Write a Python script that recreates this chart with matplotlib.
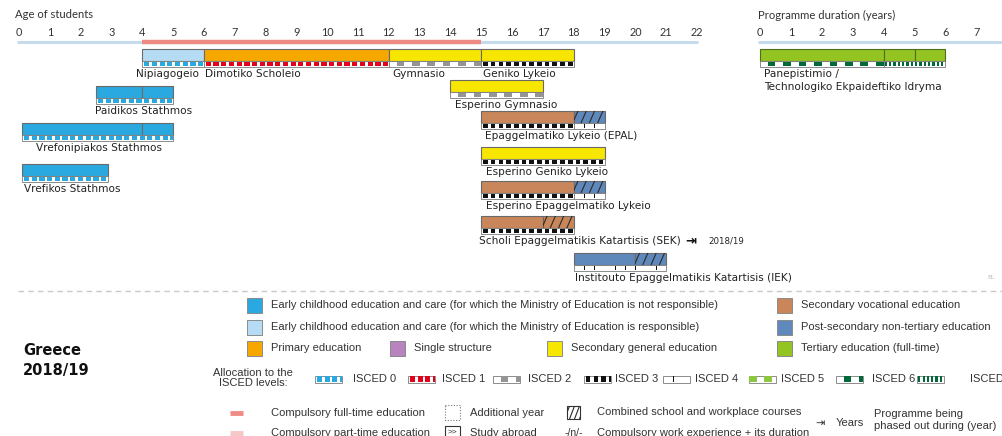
import matplotlib
matplotlib.use("Agg")
import matplotlib.pyplot as plt
from matplotlib.patches import Rectangle
import numpy as np

# ---- data -------------------------------------------------------------
age_ticks = list(range(0, 23))
duration_ticks = list(range(0, 8))
compulsory_full_time = (4, 15)

# bar pieces on the age axis: (programme, start age, end age, type, combined school/work)
age_segments = [
    ("Nipiagogeio", 4, 6, "ecec_moe", False),
    ("Dimotiko Scholeio", 6, 12, "primary", False),
    ("Gymnasio", 12, 15, "sec_gen", False),
    ("Geniko Lykeio", 15, 18, "sec_gen", False),
    ("Paidikos Stathmos", 2.5, 4, "ecec", False),
    ("Paidikos Stathmos", 4, 5, "ecec", False),
    ("Esperino Gymnasio", 14, 17, "sec_gen", False),
    ("Vrefonipiakos Stathmos", 0.1, 4, "ecec", False),
    ("Vrefonipiakos Stathmos", 4, 5, "ecec", False),
    ("Epaggelmatiko Lykeio (EPAL)", 15, 18, "sec_voc", False),
    ("Epaggelmatiko Lykeio (EPAL)", 18, 19, "post_sec", True),
    ("Vrefikos Stathmos", 0.1, 2.9, "ecec", False),
    ("Esperino Geniko Lykeio", 15, 19, "sec_gen", False),
    ("Esperino Epaggelmatiko Lykeio", 15, 18, "sec_voc", False),
    ("Esperino Epaggelmatiko Lykeio", 18, 19, "post_sec", True),
    ("Scholi Epaggelmatikis Katartisis (SEK)", 15, 17, "sec_voc", False),
    ("Scholi Epaggelmatikis Katartisis (SEK)", 17, 18, "sec_voc", True),
    ("Institouto Epaggelmatikis Katartisis (IEK)", 18, 20, "post_sec", False),
    ("Institouto Epaggelmatikis Katartisis (IEK)", 20, 21, "post_sec", True),
]

# ISCED allocation on the age axis: (programme, start, end, level)
age_isced = [
    ("Nipiagogeio", 4, 6, 0),
    ("Dimotiko Scholeio", 6, 12, 1),
    ("Gymnasio", 12, 15, 2),
    ("Geniko Lykeio", 15, 18, 3),
    ("Paidikos Stathmos", 2.5, 5, 0),
    ("Esperino Gymnasio", 14, 17, 2),
    ("Vrefonipiakos Stathmos", 0.1, 5, 0),
    ("Epaggelmatiko Lykeio (EPAL)", 15, 18, 3),
    ("Epaggelmatiko Lykeio (EPAL)", 18, 19, 4),
    ("Vrefikos Stathmos", 0.1, 2.9, 0),
    ("Esperino Geniko Lykeio", 15, 19, 3),
    ("Esperino Epaggelmatiko Lykeio", 15, 18, 3),
    ("Esperino Epaggelmatiko Lykeio", 18, 19, 4),
    ("Scholi Epaggelmatikis Katartisis (SEK)", 15, 18, 3),
    ("Institouto Epaggelmatikis Katartisis (IEK)", 18, 21, 4),
]

# tertiary programmes on the duration axis (years)
tertiary_lines = ["Panepistimio /", "Technologiko Ekpaideftiko Idryma"]
tertiary_segments = [(0, 4), (4, 5), (5, 6)]
tertiary_isced = [(0, 4, 6), (4, 6, 7)]

phased_out_name = "Scholi Epaggelmatikis Katartisis (SEK)"
phased_out_year = "2018/19"

# ---- layout (pixels from top, label start in years) -------------------
row_top = {
    "Nipiagogeio": 49, "Dimotiko Scholeio": 49, "Gymnasio": 49, "Geniko Lykeio": 49,
    "Paidikos Stathmos": 86, "Esperino Gymnasio": 80, "Vrefonipiakos Stathmos": 123,
    "Epaggelmatiko Lykeio (EPAL)": 111, "Vrefikos Stathmos": 164,
    "Esperino Geniko Lykeio": 147, "Esperino Epaggelmatiko Lykeio": 181,
    "Scholi Epaggelmatikis Katartisis (SEK)": 216,
    "Institouto Epaggelmatikis Katartisis (IEK)": 253,
}
label_x = {
    "Nipiagogeio": 3.8, "Dimotiko Scholeio": 6.05, "Gymnasio": 12.1, "Geniko Lykeio": 15.05,
    "Paidikos Stathmos": 2.47, "Esperino Gymnasio": 14.15, "Vrefonipiakos Stathmos": 0.55,
    "Epaggelmatiko Lykeio (EPAL)": 15.12, "Vrefikos Stathmos": 0.16,
    "Esperino Geniko Lykeio": 15.14, "Esperino Epaggelmatiko Lykeio": 15.14,
    "Scholi Epaggelmatikis Katartisis (SEK)": 14.93,
    "Institouto Epaggelmatikis Katartisis (IEK)": 18.04,
}

COLORS = {
    "ecec": "#2aa9e0", "ecec_moe": "#b5dcf4", "primary": "#f6a800",
    "single": "#b883bf", "sec_gen": "#f7e600", "sec_voc": "#c8865a",
    "post_sec": "#5f88bb", "tertiary": "#93c422",
}
# color, period (years), filled fraction, phase
ISCED_STYLE = {
    0: ("#2aa9e0", 0.25, 0.68, 0.06),
    1: ("#e2001a", 0.25, 0.68, 0.06),
    2: ("#959595", 0.5, 0.5, 0.25),
    3: ("#111111", 0.25, 0.6, 0.06),
    4: ("#111111", 1 / 3, 0.07, 1 / 3),
    5: ("#8dc63f", 0.5, 0.5, 0.0),
    6: ("#00693a", 0.5, 0.5, 0.25),
    7: ("#00693a", 0.14, 0.5, 0.04),
}

PX = 30.82          # pixels per year
BAR_H, STRIP_H = 12, 6
W, H = 1002, 436
LBL_FONT = "DejaVu Sans"
AX_FONT = "Lato"
LEG_FONT = "Liberation Sans"
LBL_SIZE = 7.6
LEG_SIZE = 8.0
TXT = "#333333"


def isced_strip(ax, x0, x1, y, h, level, unit=1.0):
    color, period, frac, phase = ISCED_STYLE[level]
    ax.add_patch(Rectangle((x0, y), x1 - x0, h, fc="white", ec="#7a7a7a", lw=0.6, zorder=3))
    p = period * unit
    for x in np.arange(x0 + phase * unit, x1, p):
        w = min(p * frac, x1 - x)
        if w > 0:
            ax.add_patch(Rectangle((x, y + 0.9), w, h - 1.8, fc=color, lw=0, zorder=4))


def hatch(ax, x0, x1, y0, y1, step, slant):
    clip = Rectangle((x0, y0), x1 - x0, y1 - y0, transform=ax.transData)
    for x in np.arange(x0 - slant + step * 0.5, x1 + step, step):
        ln, = ax.plot([x, x + slant], [y1, y0], color="#2b2b2b", lw=0.8, zorder=4,
                      solid_capstyle="butt")
        ln.set_clip_path(clip)


fig = plt.figure(figsize=(W / 100, H / 100), dpi=100)

# age axes (x in years of age, y in pixels)
ax = fig.add_axes([0, 0, 1, 1])
ax.set_xlim(-19 / PX, (W - 19) / PX)
ax.set_ylim(H, 0)
ax.axis("off")

# duration axes (x in programme years)
ax2 = fig.add_axes([0, 0, 1, 1])
ax2.set_xlim(-760 / 30.9, (W - 760) / 30.9)
ax2.set_ylim(H, 0)
ax2.axis("off")

# legend axes (pixels)
axl = fig.add_axes([0, 0, 1, 1])
axl.set_xlim(0, W)
axl.set_ylim(H, 0)
axl.axis("off")

# ---- age scale
ax.text(-0.13, 15, "Age of students", fontsize=8.1, family=AX_FONT, color=TXT, va="center")
for t in age_ticks:
    ax.text(t, 32, str(t), fontsize=7.8, family=AX_FONT, color=TXT, ha="center", va="center")
ax.plot([-0.06, 22.03], [42, 42], color="#c5dbec", lw=2.2, solid_capstyle="butt")
ax.plot(compulsory_full_time, [42, 42], color="#ef8b85", lw=3.2, solid_capstyle="butt")

ax2.text(-0.06, 15, "Programme duration (years)", fontsize=8.1, family=AX_FONT,
         color=TXT, va="center")
for t in duration_ticks:
    ax2.text(t, 32, str(t), fontsize=7.8, family=AX_FONT, color=TXT, ha="center", va="center")
ax2.plot([-0.05, 8.0], [42, 42], color="#c5dbec", lw=2.2, solid_capstyle="butt")

# ---- programme bars
for name, x0, x1, kind, combined in age_segments:
    top = row_top[name]
    ax.add_patch(Rectangle((x0, top), x1 - x0, BAR_H, fc=COLORS[kind], ec="#6a6a6a",
                           lw=0.8, zorder=2))
    if combined:
        hatch(ax, x0, x1, top, top + BAR_H, 0.27, 0.17)

for name, x0, x1, level in age_isced:
    isced_strip(ax, x0, x1, row_top[name] + BAR_H, STRIP_H, level)

for name in row_top:
    ax.text(label_x[name], row_top[name] + 25, name, fontsize=LBL_SIZE, family=LBL_FONT,
            color="#222222", va="center")

y_po = row_top[phased_out_name] + 25
ax.text(21.62, y_po, "\u21e5", fontsize=9.5, family="DejaVu Sans", color="#111111",
        va="center", fontweight="bold")
ax.text(22.36, y_po, phased_out_year, fontsize=6.2, family=LBL_FONT, color="#222222",
        va="center")

top = 49
for x0, x1 in tertiary_segments:
    ax2.add_patch(Rectangle((x0, top), x1 - x0, BAR_H, fc=COLORS["tertiary"], ec="#4f6e1a",
                            lw=0.8, zorder=2))
for x0, x1, level in tertiary_isced:
    isced_strip(ax2, x0, x1, top + BAR_H, STRIP_H, level)
for i, line in enumerate(tertiary_lines):
    ax2.text(0.13, 74 + 13 * i, line, fontsize=LBL_SIZE, family=LBL_FONT, color="#222222",
             va="center")

axl.text(987, 277, "EL", fontsize=4.5, color="#bbbbbb", va="center")

# ---- separator and legend
axl.plot([18, W], [291, 291], color="#c8c8c8", lw=1, ls=(0, (4, 3)))

axl.text(23, 350, "Greece", fontsize=10.5, fontweight="bold", family="DejaVu Sans",
         color="#111111", va="center")
axl.text(23, 370, "2018/19", fontsize=10.5, fontweight="bold", family="DejaVu Sans",
         color="#111111", va="center")

legend_boxes = [
    (247, 305, "ecec", "Early childhood education and care (for which the Ministry of Education is not responsible)"),
    (247, 327, "ecec_moe", "Early childhood education and care (for which the Ministry of Education is responsible)"),
    (247, 348, "primary", "Primary education"),
    (390, 348, "single", "Single structure"),
    (547, 348, "sec_gen", "Secondary general education"),
    (777, 305, "sec_voc", "Secondary vocational education"),
    (777, 327, "post_sec", "Post-secondary non-tertiary education"),
    (777, 348, "tertiary", "Tertiary education (full-time)"),
]
for x, y, kind, text in legend_boxes:
    axl.add_patch(Rectangle((x, y - 7.5), 15, 15, fc=COLORS[kind], ec="#8a8a8a", lw=0.7))
    axl.text(x + 24, y, text, fontsize=LEG_SIZE, family=LEG_FONT, color=TXT, va="center")

axl.text(253, 378, "Allocation to the\nISCED levels:", fontsize=LEG_SIZE, family=LEG_FONT,
         color=TXT, va="center", ha="center", linespacing=1.05)
isced_sample_x = [315, 408, 493, 584, 663, 749, 836, 917]
isced_text_x = [353, 442, 528, 615, 695, 781, 872, 970]
for lev in range(8):
    isced_strip(axl, isced_sample_x[lev], isced_sample_x[lev] + 27, 375.5, 7, lev, unit=PX)
    axl.text(isced_text_x[lev], 379, "ISCED %d" % lev, fontsize=LEG_SIZE, family=LEG_FONT,
             color=TXT, va="center")

axl.plot([230, 243], [413, 413], color="#ef8b85", lw=3.5, solid_capstyle="butt")
axl.plot([230, 243], [433, 433], color="#f7c7c7", lw=3.5, solid_capstyle="butt")
axl.text(271, 413, "Compulsory full-time education", fontsize=LEG_SIZE, family=LEG_FONT,
         color=TXT, va="center")
axl.text(271, 433, "Compulsory part-time education", fontsize=LEG_SIZE, family=LEG_FONT,
         color=TXT, va="center")

axl.add_patch(Rectangle((445, 405), 15, 15, fc="none", ec="#777777", lw=0.8, ls=(0, (1, 1.5))))
axl.text(470, 413, "Additional year", fontsize=LEG_SIZE, family=LEG_FONT, color=TXT, va="center")
axl.add_patch(Rectangle((445, 426), 15, 14, fc="none", ec="#333333", lw=0.8))
axl.text(452.5, 432, ">>", fontsize=6, family=LEG_FONT, color=TXT, va="center", ha="center")
axl.text(470, 433, "Study abroad", fontsize=LEG_SIZE, family=LEG_FONT, color=TXT, va="center")

axl.add_patch(Rectangle((567, 406), 13, 13, fc="white", ec="#333333", lw=0.8))
hatch(axl, 567, 580, 406, 419, 5, 5)
axl.text(597, 412, "Combined school and workplace courses", fontsize=LEG_SIZE, family=LEG_FONT,
         color=TXT, va="center")
axl.text(565, 433, "-/n/-", fontsize=7.5, family=LEG_FONT, color=TXT, va="center")
axl.text(597, 433, "Compulsory work experience + its duration", fontsize=LEG_SIZE,
         family=LEG_FONT, color=TXT, va="center")

axl.text(815, 423, "\u21e5", fontsize=8, family="DejaVu Sans", color=TXT, va="center")
axl.text(836, 423, "Years", fontsize=LEG_SIZE, family=LEG_FONT, color=TXT, va="center")
axl.text(874, 420, "Programme being\nphased out during (year)", fontsize=LEG_SIZE,
         family=LEG_FONT, color=TXT, va="center", linespacing=1.15)

fig.savefig("out.png", dpi=100)
